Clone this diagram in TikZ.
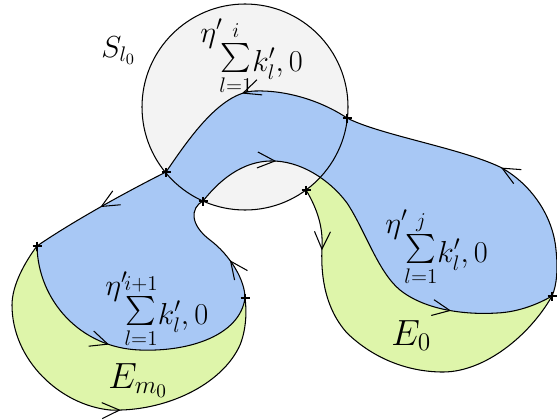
\documentclass[tikz,border=0pt]{standalone}
\usepackage{amsmath,amssymb}
\usepackage{tikz}
\usepackage{xcolor}
\usetikzlibrary{arrows.meta,decorations.markings}
\definecolor{sheet}{RGB}{168,200,245}
\definecolor{leaf}{RGB}{222,245,170}
\definecolor{disc}{RGB}{243,243,243}
\newcommand{\etasum}[1]{$\raisebox{1.0em}{$\eta'$}\mkern-2mu
  \raisebox{0.18em}{$\sum\limits_{l=1}^{#1}$}k'_l,0$}
% pieces of the boundaries (pixel units, y downwards)
\newcommand{\cTop}{.. controls (320,100) and (285,90) .. (255,91)
  .. controls (220,92) and (188,140) .. (p1)}
\newcommand{\cLeft}{.. controls (130,190) and (75,220) .. (p5)}
\newcommand{\cBottom}{.. controls (38,300) and (80,348) .. (140,350)
  .. controls (190,352) and (240,335) .. (p6)}
\newcommand{\cNeck}{.. controls (245,280) and (230,255) .. (210,240)
  .. controls (190,225) and (190,208) .. (p2)}
\newcommand{\cLow}{.. controls (212,190) and (235,162) .. (270,161)
  .. controls (300,160) and (330,180) .. (347,203)
  .. controls (365,230) and (378,272) .. (400,290)
  .. controls (425,310) and (465,315) .. (497,313)
  .. controls (520,312) and (540,303) .. (p7)}
\newcommand{\cRight}{.. controls (557,285) and (558,268) .. (556,250)
  .. controls (553,215) and (530,183) .. (500,167)
  .. controls (460,148) and (380,135) .. (p3)}
\newcommand{\cOutL}{.. controls (25,262) and (12,285) .. (12,305)
  .. controls (12,360) and (60,405) .. (110,410)
  .. controls (165,412) and (222,385) .. (240,345)
  .. controls (246,330) and (247,312) .. (p6)}
\newcommand{\cOutR}{.. controls (318,210) and (323,228) .. (322,247)
  .. controls (321,268) and (322,305) .. (347,333)
  .. controls (375,360) and (410,372) .. (443,372)
  .. controls (485,372) and (530,335) .. (p7)}

\begin{document}
\begin{tikzpicture}[x=0.02cm,y=-0.02cm,
  edge/.style={line width=0.6pt},
  arr/.style={postaction={decorate,decoration={markings,
      mark=at position #1 with {\arrow{Straight Barb[length=3.5mm,width=3.2mm]}}}}},
  mk/.style={line width=1.3pt},
  lab/.style={inner sep=0pt},
  eta/.style={lab,anchor=base west,font=\fontsize{16.5}{19}\selectfont}]
  \useasboundingbox (0,0) rectangle (557,419);
  \coordinate (c) at (245,107);
  \coordinate (p1) at (166,172);
  \coordinate (p2) at (203,201);
  \coordinate (p3) at (347,118);
  \coordinate (p4) at (306,190);
  \coordinate (p5) at (37,246);
  \coordinate (p6) at (245,298);
  \coordinate (p7) at (552,296);
  % fills
  \fill[leaf] (p5) \cOutL -- cycle;
  \fill[leaf] (p4) \cOutR -- (470,220) -- (330,150) -- cycle;
  \fill[disc] (c) circle[radius=103];
  \fill[sheet] (p3) \cTop \cLeft \cBottom \cNeck \cLow \cRight -- cycle;
  % outlines
  \draw[edge] (c) circle[radius=103];
  \draw[edge,arr=0.5] (p3) \cTop;
  \draw[edge,arr=0.5] (p1) \cLeft;
  \draw[edge,arr=0.45] (p5) \cBottom;
  \draw[edge,arr=0.35] (p6) \cNeck;
  \draw[edge,arr=0.2,arr=0.76] (p2) \cLow;
  \draw[edge,arr=0.48] (p7) \cRight;
  \draw[edge,arr=0.55] (p5) \cOutL;
  \draw[edge,arr=0.16] (p4) \cOutR;
  \foreach \p in {p1,p2,p3,p4,p5,p6,p7}
    \draw[mk] (\p) +(-4.5,0) -- +(4.5,0) +(0,-4.5) -- +(0,4.5);
  % labels
  \node[lab,anchor=base west,font=\fontsize{18}{20}\selectfont] (s) at (101,57) {$S_{l_0}$};
  \node[eta] (top) at (200,71) {\etasum{i}};
  \node[eta] (lft) at (105,324) {\etasum{i+1}};
  \node[eta] (rgt) at (385,262) {\etasum{j}};
  \node[lab,anchor=base west,font=\fontsize{22}{24}\selectfont] (em) at (108,388) {$E_{m_0}$};
  \node[lab,anchor=base west,font=\fontsize{22}{24}\selectfont] (e0) at (391,345) {$E_0$};
\end{tikzpicture}
\end{document}
